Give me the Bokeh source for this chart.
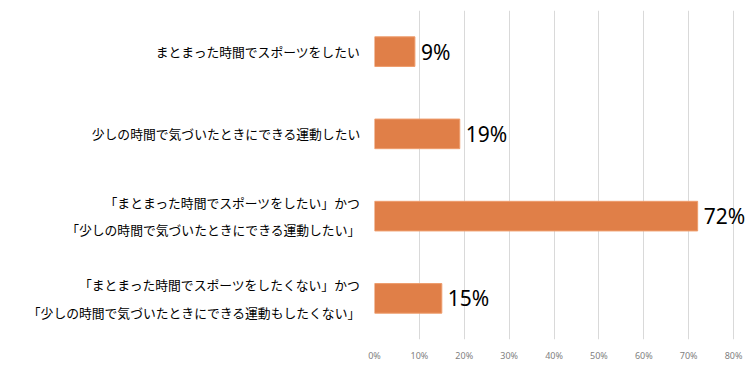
from bokeh.plotting import figure
from bokeh.models import ColumnDataSource, LabelSet, FixedTicker
from bokeh.core.properties import value
from bokeh.embed import file_html
from bokeh.resources import INLINE

labels = [
    "まとまった時間でスポーツをしたい",
    "少しの時間で気づいたときにできる運動したい",
    "「まとまった時間でスポーツをしたい」かつ\n「少しの時間で気づいたときにできる運動したい」",
    "「まとまった時間でスポーツをしたくない」かつ\n「少しの時間で気づいたときにできる運動もしたくない」",
]
values = [9, 19, 72, 15]
value_text = ["9%", "19%", "72%", "15%"]
x_ticks = [0, 10, 20, 30, 40, 50, 60, 70, 80]

src = ColumnDataSource(dict(cat=labels, value=values, txt=value_text))

p = figure(width=751, height=364, output_backend="svg", toolbar_location=None,
           y_range=list(reversed(labels)), x_range=(0, 84),
           min_border_left=374, min_border_right=0, min_border_top=10, min_border_bottom=0)
p.outline_line_color = None
p.background_fill_color = "white"

p.hbar(y="cat", right="value", left=0, height=0.36, source=src,
       fill_color="#E07F48", line_color="#EE9C6C", line_width=1)

ls = LabelSet(x="value", y="cat", text="txt", source=src, x_offset=6,
              text_font=value("Noto Sans"), text_font_size=value("21px"),
              text_color="#000000", text_baseline="middle", text_align="left")
p.add_layout(ls)

p.xgrid.grid_line_color = "#D9D9D9"
p.ygrid.grid_line_color = None
p.xaxis.ticker = FixedTicker(ticks=x_ticks)
p.xaxis.major_label_overrides = {t: f"{t}%" for t in x_ticks}
p.xaxis.axis_line_color = None
p.xaxis.major_tick_line_color = None
p.xaxis.minor_tick_line_color = None
p.xaxis.major_label_text_color = "#7F7F7F"
p.xaxis.major_label_text_font = "Noto Sans"
p.xaxis.major_label_text_font_size = "9px"
p.xaxis.major_label_standoff = 3

p.yaxis.axis_line_color = None
p.yaxis.major_tick_line_color = None
p.yaxis.minor_tick_line_color = None
p.yaxis.major_label_text_font = "Noto Sans CJK JP"
p.yaxis.major_label_text_font_size = "12.8px"
p.yaxis.major_label_text_color = "#000000"
p.yaxis.major_label_text_line_height = 1.45
p.yaxis.major_label_standoff = 8

open("out.html", "w").write(file_html(p, INLINE))
